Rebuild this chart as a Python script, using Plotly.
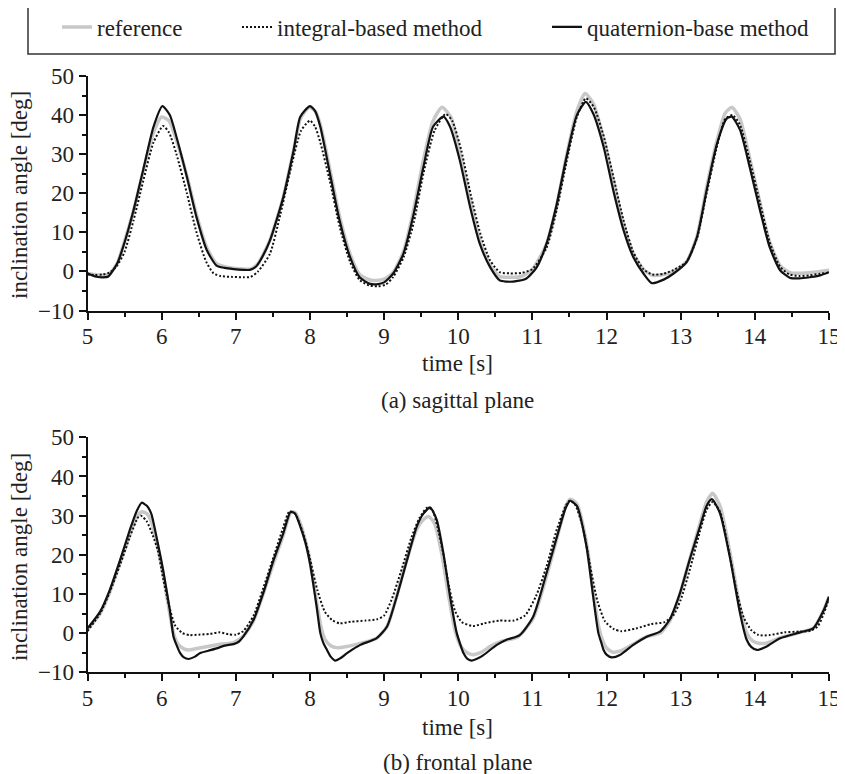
import plotly.graph_objects as go

# ---------------- data (time [s], inclination angle [deg]) ----------------
# (a) sagittal plane
sag_reference = [
    (5.0, -0.5), (5.1, -0.8), (5.2, -1.0), (5.3, -0.5), (5.4, 2.0), (5.48, 6.5), (5.62, 15.5),
    (5.75, 25.5), (5.89, 35.5), (6.0, 39.5), (6.1, 38.5), (6.2, 33.5), (6.34, 24.5), (6.47, 14.5),
    (6.61, 6.0), (6.74, 2.0), (6.85, 1.2), (6.97, 0.8), (7.1, 0.6), (7.2, 0.6), (7.3, 2.0),
    (7.46, 8.0), (7.64, 19.0), (7.78, 31.0), (7.87, 39.0), (7.99, 42.0), (8.07, 41.0), (8.14, 37.5),
    (8.27, 26.0), (8.4, 14.0), (8.54, 4.5), (8.67, -0.8), (8.81, -2.2), (8.9, -2.3), (9.0, -2.0),
    (9.12, -0.3), (9.26, 5.0), (9.39, 15.0), (9.53, 28.5), (9.66, 38.5), (9.78, 42.0), (9.9, 39.5),
    (10.02, 30.5), (10.16, 18.0), (10.29, 8.0), (10.43, 1.5), (10.56, -1.3), (10.7, -1.5),
    (10.85, -1.3), (11.0, 0.5), (11.19, 7.0), (11.33, 17.0), (11.46, 29.5), (11.6, 41.0),
    (11.71, 45.5), (11.82, 43.0), (11.96, 34.0), (12.1, 22.5), (12.23, 12.0), (12.36, 4.5),
    (12.5, 0.5), (12.62, -1.0), (12.77, -0.8), (12.9, 0.0), (13.08, 2.5), (13.22, 9.0),
    (13.35, 21.5), (13.49, 33.5), (13.6, 40.5), (13.69, 42.0), (13.8, 39.0), (13.93, 29.0),
    (14.07, 17.5), (14.2, 7.5), (14.34, 1.5), (14.47, -0.3), (14.6, -0.5), (14.74, -0.3),
    (14.88, 0.0), (15.0, 0.3),
]
sag_integral = [
    (5.0, -0.8), (5.1, -0.9), (5.2, -0.8), (5.3, -0.3), (5.4, 1.5), (5.5, 5.0), (5.62, 13.0),
    (5.75, 23.0), (5.89, 33.0), (6.02, 37.2), (6.1, 35.5), (6.2, 30.0), (6.34, 20.0), (6.47, 10.0),
    (6.6, 2.5), (6.7, -0.5), (6.8, -1.2), (6.95, -1.4), (7.1, -1.5), (7.2, -1.4), (7.3, 0.0),
    (7.46, 4.5), (7.6, 14.5), (7.75, 27.0), (7.88, 36.0), (8.0, 38.6), (8.07, 37.0), (8.14, 33.0),
    (8.27, 23.0), (8.4, 11.5), (8.54, 2.5), (8.67, -2.2), (8.8, -3.6), (8.92, -3.8), (9.02, -3.4),
    (9.12, -1.5), (9.26, 3.5), (9.4, 12.5), (9.53, 25.0), (9.68, 36.0), (9.83, 40.3), (9.92, 38.5),
    (10.04, 31.0), (10.17, 19.5), (10.3, 9.5), (10.43, 2.8), (10.56, -0.2), (10.7, -0.5),
    (10.85, -0.4), (11.0, 0.6), (11.19, 6.0), (11.33, 16.0), (11.46, 28.0), (11.6, 39.5),
    (11.72, 44.3), (11.83, 42.0), (11.97, 34.0), (12.1, 23.5), (12.23, 13.0), (12.36, 5.0),
    (12.5, 0.5), (12.62, -0.8), (12.77, -0.6), (12.9, 0.3), (13.08, 2.5), (13.22, 8.5),
    (13.35, 20.0), (13.49, 32.0), (13.6, 39.0), (13.7, 40.0), (13.8, 37.5), (13.93, 28.5),
    (14.07, 17.5), (14.2, 7.5), (14.34, 1.2), (14.47, -0.8), (14.6, -1.2), (14.74, -1.0),
    (14.88, -0.6), (15.0, -0.3),
]
sag_quaternion = [
    (5.0, -0.5), (5.1, -1.3), (5.2, -1.5), (5.28, -1.3), (5.4, 2.0), (5.48, 6.2), (5.62, 15.6),
    (5.75, 25.9), (5.89, 37.0), (6.01, 42.3), (6.11, 40.0), (6.2, 34.4), (6.34, 24.2), (6.47, 13.9),
    (6.61, 5.4), (6.74, 1.5), (6.85, 0.9), (6.97, 0.6), (7.1, 0.4), (7.19, 0.4), (7.27, 1.2),
    (7.33, 2.8), (7.46, 7.9), (7.64, 19.0), (7.78, 31.0), (7.87, 39.6), (8.0, 42.3), (8.07, 41.0),
    (8.14, 37.0), (8.27, 25.0), (8.4, 13.0), (8.54, 3.7), (8.67, -1.5), (8.81, -3.2), (8.9, -3.3),
    (9.0, -2.8), (9.12, -0.6), (9.26, 4.5), (9.39, 13.9), (9.53, 26.7), (9.66, 37.0), (9.8, 39.6),
    (9.89, 37.0), (10.02, 28.5), (10.16, 16.5), (10.29, 7.1), (10.43, 1.1), (10.56, -2.3),
    (10.65, -2.6), (10.74, -2.6), (10.92, -1.8), (11.06, 1.1), (11.19, 7.1), (11.33, 17.4),
    (11.46, 29.3), (11.6, 40.0), (11.72, 43.4), (11.82, 40.4), (11.96, 31.9), (12.09, 20.8),
    (12.23, 10.5), (12.36, 3.7), (12.5, -0.6), (12.61, -3.0), (12.77, -2.1), (12.9, -0.6),
    (13.08, 2.4), (13.22, 8.8), (13.35, 20.8), (13.49, 32.7), (13.62, 39.1), (13.69, 39.6),
    (13.8, 36.2), (13.93, 26.7), (14.07, 15.6), (14.2, 6.2), (14.34, 0.3), (14.47, -1.6),
    (14.6, -1.8), (14.74, -1.5), (14.88, -1.0), (15.0, -0.2),
]

# (b) frontal plane
fro_reference = [
    (5.0, 1.0), (5.17, 5.0), (5.3, 10.5), (5.44, 18.0), (5.57, 25.0), (5.66, 29.5), (5.73, 31.0),
    (5.8, 30.5), (5.87, 28.0), (5.94, 22.5), (6.02, 15.0), (6.1, 6.0), (6.16, 0.0), (6.22, -2.8),
    (6.3, -4.0), (6.37, -4.3), (6.45, -4.0), (6.6, -3.5), (6.8, -2.8), (6.97, -2.4), (7.1, -0.8),
    (7.24, 3.2), (7.37, 10.0), (7.51, 18.0), (7.64, 25.0), (7.74, 30.8), (7.8, 30.8), (7.87, 28.0),
    (7.94, 23.5), (8.0, 18.5), (8.09, 8.0), (8.15, 1.5), (8.2, -1.5), (8.28, -3.2), (8.36, -3.7),
    (8.5, -3.4), (8.7, -2.5), (8.9, -1.3), (9.04, 1.7), (9.17, 9.5), (9.31, 19.0), (9.44, 26.5),
    (9.53, 29.0), (9.6, 29.8), (9.68, 28.0), (9.78, 20.0), (9.87, 9.5), (9.96, 0.5), (10.04, -3.5),
    (10.12, -5.0), (10.2, -5.5), (10.3, -5.0), (10.45, -3.2), (10.6, -2.0), (10.8, -1.0),
    (11.01, 3.8), (11.19, 14.5), (11.37, 27.0), (11.45, 32.5), (11.51, 34.2), (11.6, 33.0),
    (11.73, 23.0), (11.82, 10.5), (11.89, 2.0), (11.94, -1.5), (12.0, -3.8), (12.08, -4.8),
    (12.2, -4.5), (12.36, -2.8), (12.54, -0.9), (12.72, 0.0), (12.85, 3.0), (12.99, 10.0),
    (13.12, 18.7), (13.26, 28.0), (13.35, 33.5), (13.43, 35.7), (13.53, 32.5), (13.67, 20.0),
    (13.8, 6.5), (13.89, 0.0), (13.97, -2.0), (14.05, -2.6), (14.16, -2.5), (14.34, -1.2),
    (14.61, 0.2), (14.79, 1.3), (14.93, 5.9), (15.0, 9.3),
]
fro_integral = [
    (5.0, 0.5), (5.17, 5.0), (5.3, 10.5), (5.44, 17.5), (5.57, 24.5), (5.68, 29.5), (5.72, 30.0),
    (5.8, 28.5), (5.88, 25.0), (5.95, 21.0), (6.02, 14.0), (6.1, 7.0), (6.18, 2.0), (6.28, 0.0),
    (6.38, -0.5), (6.5, -0.4), (6.65, -0.2), (6.78, 0.2), (6.9, -0.3), (7.0, -0.4), (7.1, 0.5),
    (7.24, 4.5), (7.37, 11.5), (7.51, 19.5), (7.64, 27.0), (7.72, 31.0), (7.8, 30.5), (7.87, 27.5),
    (7.94, 23.5), (8.0, 19.0), (8.1, 11.0), (8.2, 5.5), (8.3, 3.3), (8.4, 2.5), (8.55, 2.9),
    (8.75, 3.2), (8.9, 3.5), (9.0, 4.5), (9.1, 8.5), (9.24, 16.5), (9.37, 24.5), (9.48, 29.5),
    (9.58, 32.0), (9.65, 31.5), (9.72, 27.0), (9.8, 20.0), (9.88, 11.5), (9.96, 5.5), (10.05, 2.8),
    (10.2, 1.8), (10.35, 2.5), (10.55, 3.2), (10.75, 3.2), (10.9, 4.5), (11.05, 9.5), (11.19, 17.0),
    (11.33, 26.5), (11.45, 32.5), (11.5, 33.8), (11.57, 33.0), (11.68, 27.0), (11.78, 17.0),
    (11.88, 8.0), (11.98, 3.0), (12.1, 1.0), (12.2, 0.5), (12.4, 1.2), (12.6, 2.3), (12.78, 2.8),
    (12.9, 4.5), (13.0, 8.5), (13.12, 16.0), (13.26, 26.0), (13.35, 31.5), (13.43, 33.5),
    (13.53, 31.0), (13.65, 21.0), (13.75, 11.0), (13.85, 4.0), (13.95, 0.8), (14.05, -0.5),
    (14.2, -0.5), (14.4, 0.2), (14.6, 0.4), (14.75, 0.6), (14.85, 1.8), (14.93, 5.0), (15.0, 9.0),
]
fro_quaternion = [
    (5.0, 1.2), (5.17, 5.5), (5.3, 11.0), (5.44, 18.7), (5.57, 26.3), (5.66, 31.0), (5.73, 33.3),
    (5.8, 32.5), (5.86, 30.5), (5.93, 24.6), (6.02, 16.1), (6.11, 5.9), (6.16, -0.9), (6.2, -3.0),
    (6.25, -5.1), (6.3, -6.2), (6.36, -6.6), (6.45, -6.0), (6.52, -5.1), (6.63, -4.5), (6.74, -3.9),
    (6.85, -3.2), (6.97, -2.8), (7.04, -2.2), (7.1, -0.9), (7.24, 3.4), (7.37, 10.2), (7.51, 18.7),
    (7.64, 25.5), (7.74, 31.0), (7.8, 30.5), (7.87, 27.2), (7.94, 23.0), (8.0, 17.8), (8.09, 6.8),
    (8.14, 0.0), (8.18, -2.5), (8.23, -4.3), (8.28, -6.0), (8.34, -7.0), (8.42, -6.3), (8.5, -5.1),
    (8.68, -3.0), (8.9, -1.3), (9.04, 1.7), (9.17, 9.3), (9.31, 18.7), (9.44, 27.2), (9.53, 30.5),
    (9.62, 32.1), (9.71, 28.9), (9.8, 20.4), (9.89, 9.3), (9.98, 0.0), (10.03, -3.0), (10.07, -5.1),
    (10.12, -6.5), (10.18, -7.0), (10.26, -6.5), (10.34, -5.6), (10.52, -3.0), (10.65, -1.7),
    (10.83, -0.5), (11.01, 4.2), (11.19, 15.3), (11.37, 27.2), (11.45, 32.0), (11.51, 33.8),
    (11.6, 32.5), (11.73, 22.1), (11.82, 9.3), (11.89, 0.0), (11.93, -2.5), (11.96, -4.3),
    (12.0, -5.5), (12.07, -6.2), (12.18, -5.6), (12.36, -3.0), (12.54, -0.9), (12.72, 0.4),
    (12.85, 3.4), (12.99, 10.2), (13.12, 18.7), (13.26, 27.2), (13.35, 32.5), (13.42, 34.2),
    (13.53, 30.6), (13.67, 18.7), (13.8, 5.1), (13.89, -1.7), (13.95, -3.5), (14.03, -4.3),
    (14.16, -3.4), (14.34, -1.3), (14.61, 0.2), (14.79, 1.3), (14.93, 5.9), (15.0, 9.3),
]

series_names = ["reference", "integral-based method", "quaternion-base method"]
x_ticks = [5, 6, 7, 8, 9, 10, 11, 12, 13, 14, 15]
y_ticks = [-10, 0, 10, 20, 30, 40, 50]
panel_captions = ["(a) sagittal plane", "(b) frontal plane"]
x_title = "time [s]"
y_title = "inclination angle [deg]"

# ---------------- styling / layout ----------------
FONT = "Liberation Serif, Times New Roman, serif"
FS = 23
styles = [
    dict(color="#c8c8c8", width=3.5, dash="solid"),
    dict(color="#111111", width=2, dash="2px,2px"),
    dict(color="#111111", width=2.2, dash="solid"),
]
WIN_W, WIN_H = 845, 774
OFF = 8  # default page body margin
W, H = WIN_W - OFF, WIN_H - OFF


def px(xp):
    return (xp - OFF) / W


def py(yp):
    return 1 - (yp - OFF) / H


xdom = [px(87.5), px(829)]
ydom_top = [py(310.5), py(76)]
ydom_bot = [py(672.3), py(437.3)]

fig = go.Figure()
panels = [
    ([sag_reference, sag_integral, sag_quaternion], "x", "y"),
    ([fro_reference, fro_integral, fro_quaternion], "x2", "y2"),
]
legend_ids = ["legend", "legend2", "legend3"]
for p, (data, xa, ya) in enumerate(panels):
    for i, pts in enumerate(data):
        t = [a for a, _ in pts]
        v = [b for _, b in pts]
        fig.add_trace(go.Scatter(
            x=t, y=v, xaxis=xa, yaxis=ya, mode="lines",
            line=dict(color=styles[i]["color"], width=styles[i]["width"],
                      dash=styles[i]["dash"], shape="spline", smoothing=0.6),
            name=series_names[i], showlegend=(p == 0), legend=legend_ids[i],
            hoverinfo="skip",
        ))

axis_common = dict(
    showline=True, linewidth=2, linecolor="#111111", showgrid=False, zeroline=False,
    ticks="outside", ticklen=7, tickwidth=2, tickcolor="#111111",
    tickfont=dict(family=FONT, size=FS, color="#222222"),
)
xaxis_cfg = dict(axis_common, range=[5, 15], tickvals=x_ticks, domain=xdom, ticklabelstandoff=-3,
                 minor=dict(dtick=0.5, tick0=5, ticklen=4, tickwidth=2, tickcolor="#111111", ticks="outside"))
yaxis_cfg = dict(axis_common, range=[-10, 50], tickvals=y_ticks,
                 minor=dict(dtick=5, tick0=0, ticklen=4, tickwidth=2, tickcolor="#111111", ticks="outside"))

fig.update_layout(
    width=W, height=H, autosize=False,
    margin=dict(l=0, r=0, t=0, b=0, autoexpand=False),
    paper_bgcolor="white", plot_bgcolor="white",
    font=dict(family=FONT, size=FS, color="#222222"),
    xaxis=dict(xaxis_cfg, anchor="y"),
    yaxis=dict(yaxis_cfg, domain=ydom_top, anchor="x"),
    xaxis2=dict(xaxis_cfg, anchor="y2"),
    yaxis2=dict(yaxis_cfg, domain=ydom_bot, anchor="x2"),
)

legend_common = dict(orientation="h", xanchor="left", yanchor="middle", y=py(27),
                     bgcolor="rgba(0,0,0,0)", borderwidth=0,
                     font=dict(family=FONT, size=FS, color="#222222"))
fig.update_layout(
    legend=dict(legend_common, x=px(57)),
    legend2=dict(legend_common, x=px(237)),
    legend3=dict(legend_common, x=px(547)),
)

# legend frame
fig.add_shape(type="rect", xref="paper", yref="paper",
              x0=px(28), x1=px(835), y0=py(54), y1=py(5.7),
              line=dict(color="#333333", width=1.5), fillcolor="rgba(0,0,0,0)")

# titles as annotations
ann = []
for yc in [195, 557]:
    ann.append(dict(text=y_title, x=px(19), y=py(yc), textangle=-90))
for yc in [363, 727]:
    ann.append(dict(text=x_title, x=px(457), y=py(yc)))
for cap, yc in zip(panel_captions, [400, 762]):
    ann.append(dict(text=cap, x=px(457), y=py(yc)))
for a in ann:
    fig.add_annotation(xref="paper", yref="paper", showarrow=False, xanchor="center",
                       yanchor="middle", font=dict(family=FONT, size=FS, color="#222222"), **a)

fig.write_html("out.html")
